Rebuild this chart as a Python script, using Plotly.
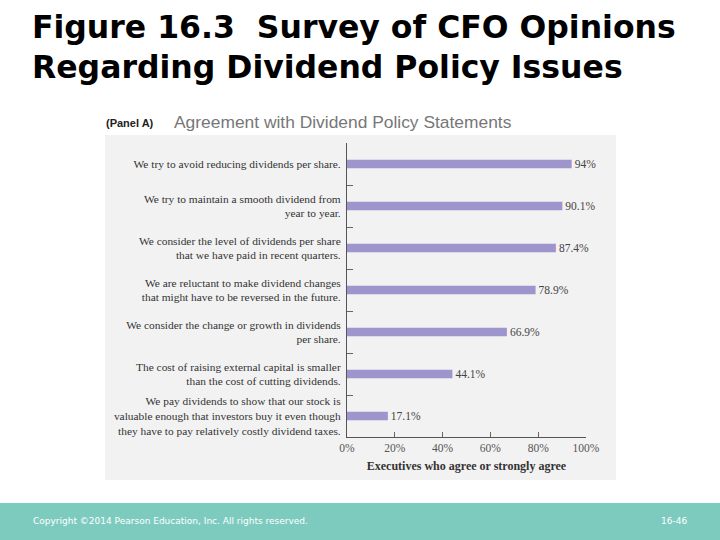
import plotly.graph_objects as go

statements = [
    "We try to avoid reducing dividends per share.",
    "We try to maintain a smooth dividend from<br>year to year.",
    "We consider the level of dividends per share<br>that we have paid in recent quarters.",
    "We are reluctant to make dividend changes<br>that might have to be reversed in the future.",
    "We consider the change or growth in dividends<br>per share.",
    "The cost of raising external capital is smaller<br>than the cost of cutting dividends.",
    "We pay dividends to show that our stock is<br>valuable enough that investors buy it even though<br>they have to pay relatively costly dividend taxes.",
]
agree_pct = [94, 90.1, 87.4, 78.9, 66.9, 44.1, 17.1]
x_ticks = [0, 20, 40, 60, 80, 100]
x_tick_labels = ["0%", "20%", "40%", "60%", "80%", "100%"]

W, H = 720, 540
def px(x): return x / W
def py(y): return 1 - y / H

serif = "Liberation Serif, Times New Roman, serif"

fig = go.Figure()
fig.add_trace(go.Bar(
    y=statements, x=agree_pct, orientation="h",
    marker=dict(color="#9D95CB", line=dict(width=0)),
    width=0.2,
    text=[f"{v:g}%" for v in agree_pct],
    textposition="outside",
    constraintext="none",
    textfont=dict(family=serif, size=11.5, color="#444444"),
    cliponaxis=False,
    hoverinfo="skip",
))

shapes = [
    dict(type="rect", xref="paper", yref="paper", x0=px(105), x1=px(616), y0=py(480), y1=py(135),
         fillcolor="#F2F2F2", line=dict(width=0), layer="below"),
    dict(type="rect", xref="paper", yref="paper", x0=0, x1=1, y0=0, y1=py(503),
         fillcolor="#7DCBBF", line=dict(width=0), layer="below"),
]

annotations = [
    dict(text="<b>Figure 16.3  Survey of CFO Opinions</b>", x=px(30), y=py(27), xref="paper", yref="paper",
         xanchor="left", yanchor="middle", showarrow=False,
         font=dict(family="DejaVu Sans", size=31.5, color="#000000")),
    dict(text="<b>Regarding Dividend Policy Issues</b>", x=px(30), y=py(67), xref="paper", yref="paper",
         xanchor="left", yanchor="middle", showarrow=False,
         font=dict(family="DejaVu Sans", size=31.5, color="#000000")),
    dict(text="<b>(Panel A)</b>", x=px(104), y=py(123), xref="paper", yref="paper",
         xanchor="left", yanchor="middle", showarrow=False,
         font=dict(family="Liberation Sans", size=11, color="#222222")),
    dict(text="Agreement with Dividend Policy Statements", x=px(172), y=py(122), xref="paper", yref="paper",
         xanchor="left", yanchor="middle", showarrow=False,
         font=dict(family="Liberation Sans", size=17.4, color="#777777")),
    dict(text="Copyright ©2014 Pearson Education, Inc. All rights reserved.", x=px(31), y=py(521),
         xref="paper", yref="paper", xanchor="left", yanchor="middle", showarrow=False,
         font=dict(family="DejaVu Sans", size=9, color="#FFFFFF")),
    dict(text="16-46", x=px(689), y=py(521), xref="paper", yref="paper",
         xanchor="right", yanchor="middle", showarrow=False,
         font=dict(family="DejaVu Sans", size=9, color="#FFFFFF")),
]

fig.update_layout(
    template="none",
    width=W, height=H, margin=dict(l=0, r=0, t=0, b=0, pad=0), autosize=False,
    paper_bgcolor="#FFFFFF", plot_bgcolor="rgba(0,0,0,0)",
    showlegend=False, shapes=shapes, annotations=annotations,
    xaxis=dict(
        domain=[px(347), px(586)], range=[0, 100], automargin=False,
        tickvals=x_ticks, ticktext=x_tick_labels,
        ticks="inside", ticklen=5, tickcolor="#666666", tickwidth=1,
        showline=True, linecolor="#555555", linewidth=1,
        showgrid=False, zeroline=False,
        tickfont=dict(family=serif, size=11.5, color="#555555"),
        title=dict(text="<b>Executives who agree or strongly agree</b>", standoff=8,
                   font=dict(family=serif, size=12, color="#333333")),
        fixedrange=True,
    ),
    yaxis=dict(
        domain=[py(437), py(143)], automargin=False,
        autorange="reversed", type="category",
        tickson="boundaries", ticks="inside", ticklen=6, tickcolor="#666666", tickwidth=1,
        showline=True, linecolor="#555555", linewidth=1,
        showgrid=False, zeroline=False,
        ticklabelstandoff=3,
        tickfont=dict(family=serif, size=11.4, color="#333333"),
        fixedrange=True,
    ),
)

fig.write_html(
    "out.html",
    config={"displayModeBar": False},
    post_script="document.body.style.margin='0';document.body.style.overflow='hidden';",
)
